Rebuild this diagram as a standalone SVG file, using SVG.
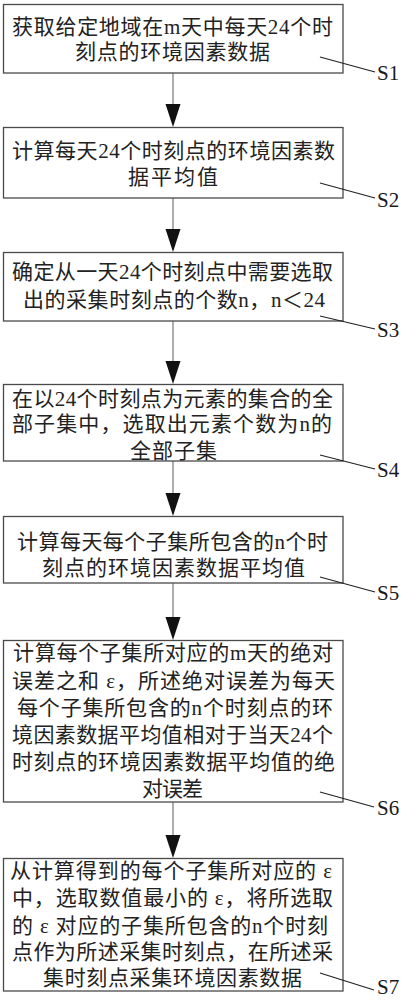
<svg xmlns="http://www.w3.org/2000/svg" width="403" height="1000" viewBox="0 0 403 1000">
<style>
.bg{fill:#ffffff}
.box{fill:#ffffff;stroke:#4a4a4a;stroke-width:1.3}
.t{font-family:"Liberation Serif","Noto Sans CJK SC",serif;font-size:21px;fill:#222222;text-anchor:middle;dominant-baseline:central}
.lbl{font-family:"Liberation Serif",serif;font-size:21px;fill:#1a1a1a}
.lead{stroke:#222;stroke-width:1.2;fill:none}
.conn{stroke:#777;stroke-width:1.2;fill:none}
.head{fill:#111}
</style>
<rect class="bg" x="0" y="0" width="403" height="1000"/>
<g id="connectors">
<line class="conn" x1="173" y1="73" x2="173" y2="104"/>
<polygon class="head" points="165.5,104 180.5,104 173,127"/>
<line class="conn" x1="173" y1="198" x2="173" y2="229"/>
<polygon class="head" points="165.5,229 180.5,229 173,252"/>
<line class="conn" x1="173" y1="321" x2="173" y2="361"/>
<polygon class="head" points="165.5,361 180.5,361 173,384"/>
<line class="conn" x1="173" y1="461" x2="173" y2="493"/>
<polygon class="head" points="165.5,493 180.5,493 173,516"/>
<line class="conn" x1="173" y1="583" x2="173" y2="617"/>
<polygon class="head" points="165.5,617 180.5,617 173,640"/>
<line class="conn" x1="173" y1="802" x2="173" y2="835"/>
<polygon class="head" points="165.5,835 180.5,835 173,858"/>
</g>
<g id="S1">
<rect class="box" x="3.5" y="4.5" width="339.5" height="68.5"/>
<text class="t" x="172.5" y="27" textLength="321" lengthAdjust="spacing">获取给定地域在m天中每天24个时</text>
<text class="t" x="172.5" y="52" textLength="195" lengthAdjust="spacing">刻点的环境因素数据</text>
<line class="lead" x1="320" y1="57" x2="375" y2="72"/>
<text class="lbl" x="377" y="80">S1</text>
</g>
<g id="S2">
<rect class="box" x="3.5" y="127.5" width="339.5" height="70.5"/>
<text class="t" x="173.5" y="151" textLength="323" lengthAdjust="spacing">计算每天24个时刻点的环境因素数</text>
<text class="t" x="173" y="177" textLength="90" lengthAdjust="spacing">据平均值</text>
<line class="lead" x1="320" y1="183" x2="375" y2="198"/>
<text class="lbl" x="377" y="207">S2</text>
</g>
<g id="S3">
<rect class="box" x="3.5" y="252.5" width="339.5" height="68.5"/>
<text class="t" x="172.5" y="272" textLength="321" lengthAdjust="spacing">确定从一天24个时刻点中需要选取</text>
<text class="t" x="174" y="300" textLength="302" lengthAdjust="spacing">出的采集时刻点的个数n，n＜24</text>
<line class="lead" x1="320" y1="316" x2="375" y2="329"/>
<text class="lbl" x="377" y="337">S3</text>
</g>
<g id="S4">
<rect class="box" x="3.5" y="384.5" width="339.5" height="76.5"/>
<text class="t" x="172.5" y="399" textLength="321" lengthAdjust="spacing">在以24个时刻点为元素的集合的全</text>
<text class="t" x="172" y="424" textLength="320" lengthAdjust="spacing">部子集中，选取出元素个数为n的</text>
<text class="t" x="173.5" y="451" textLength="87" lengthAdjust="spacing">全部子集</text>
<line class="lead" x1="320" y1="455" x2="375" y2="469"/>
<text class="lbl" x="377" y="477">S4</text>
</g>
<g id="S5">
<rect class="box" x="3.5" y="516.5" width="339.5" height="66.5"/>
<text class="t" x="172.5" y="542" textLength="311" lengthAdjust="spacing">计算每天每个子集所包含的n个时</text>
<text class="t" x="173.5" y="567.5" textLength="263" lengthAdjust="spacing">刻点的环境因素数据平均值</text>
<line class="lead" x1="320" y1="577" x2="375" y2="592"/>
<text class="lbl" x="377" y="600">S5</text>
</g>
<g id="S6">
<rect class="box" x="3.5" y="640.5" width="339.5" height="161.5"/>
<text class="t" x="173" y="652.5" textLength="320" lengthAdjust="spacing">计算每个子集所对应的m天的绝对</text>
<text class="t" x="173.5" y="681" textLength="323" lengthAdjust="spacing">误差之和 ε，所述绝对误差为每天</text>
<text class="t" x="175" y="708" textLength="316" lengthAdjust="spacing">每个子集所包含的n个时刻点的环</text>
<text class="t" x="172.5" y="735" textLength="321" lengthAdjust="spacing">境因素数据平均值相对于当天24个</text>
<text class="t" x="173.5" y="762" textLength="323" lengthAdjust="spacing">时刻点的环境因素数据平均值的绝</text>
<text class="t" x="172.5" y="789" textLength="61" lengthAdjust="spacing">对误差</text>
<line class="lead" x1="320" y1="792" x2="374" y2="807"/>
<text class="lbl" x="377" y="815">S6</text>
</g>
<g id="S7">
<rect class="box" x="3.5" y="858.5" width="339.5" height="132.5"/>
<text class="t" x="171" y="871" textLength="322" lengthAdjust="spacing">从计算得到的每个子集所对应的 ε</text>
<text class="t" x="172.5" y="898" textLength="321" lengthAdjust="spacing">中，选取数值最小的 ε，将所选取</text>
<text class="t" x="170" y="926" textLength="316" lengthAdjust="spacing">的 ε 对应的子集所包含的n个时刻</text>
<text class="t" x="172.5" y="952" textLength="321" lengthAdjust="spacing">点作为所述采集时刻点，在所述采</text>
<text class="t" x="172.5" y="978" textLength="259" lengthAdjust="spacing">集时刻点采集环境因素数据</text>
<line class="lead" x1="320" y1="973" x2="374" y2="990"/>
<text class="lbl" x="377" y="994">S7</text>
</g>
</svg>
